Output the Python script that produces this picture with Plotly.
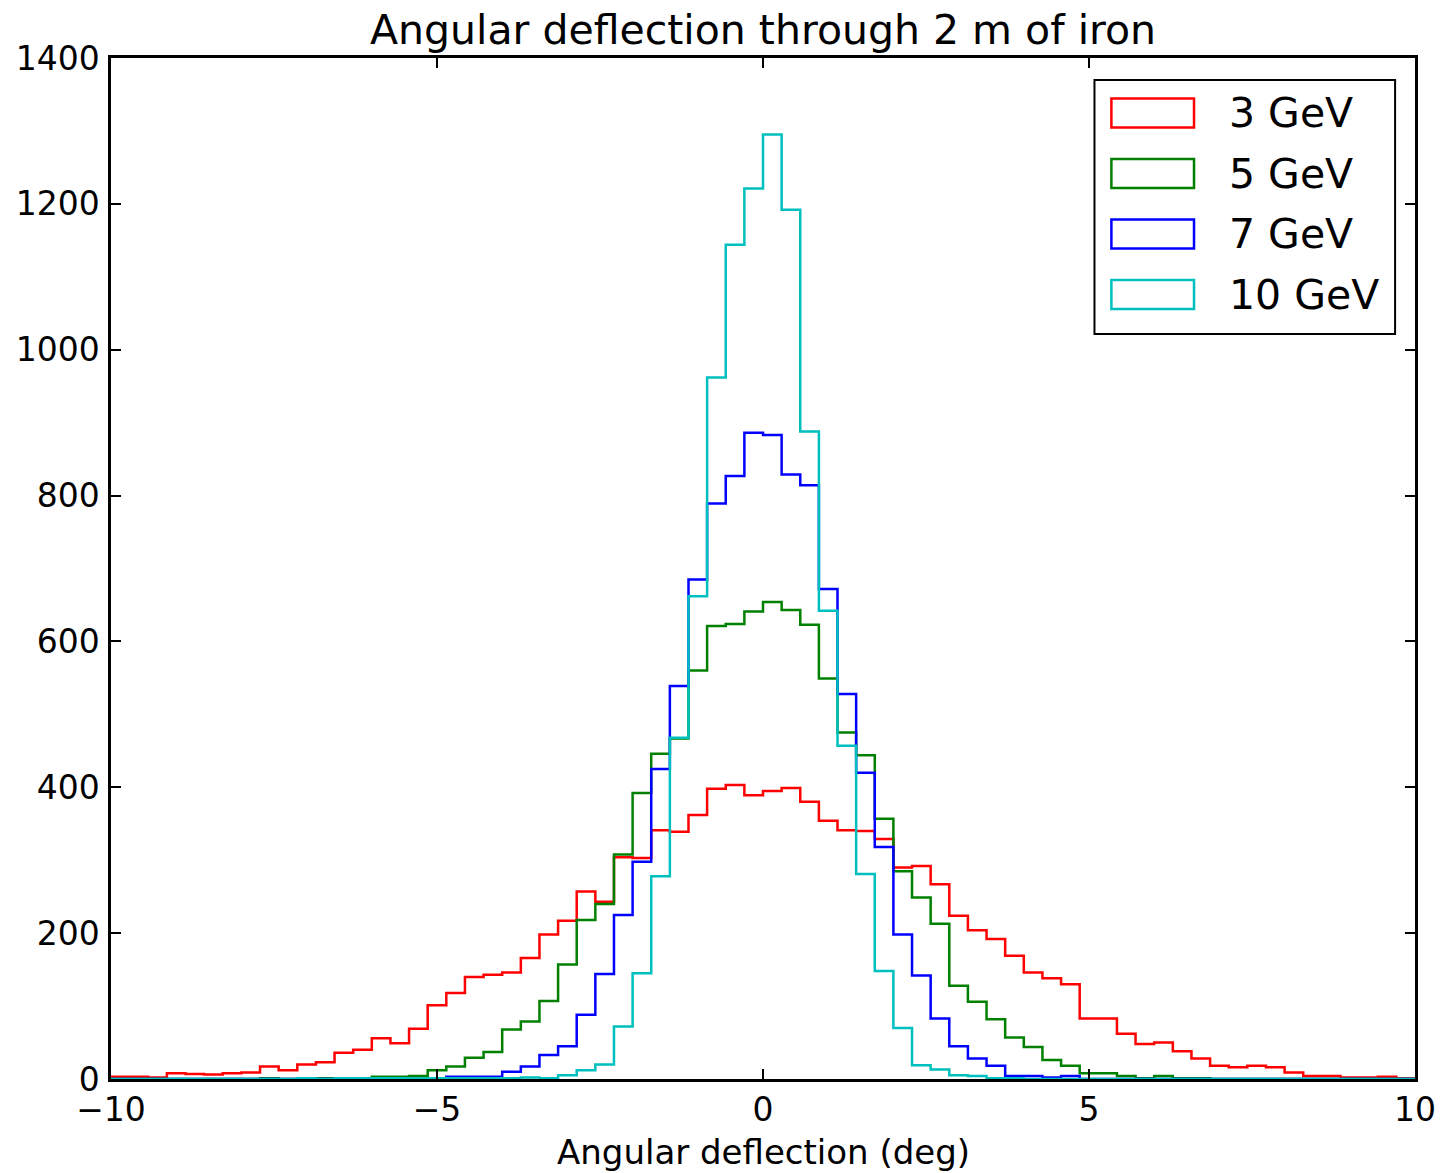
import numpy as np
import plotly.graph_objects as go

# Histogram binning: 70 equal bins over [-10, 10] degrees
X_MIN, X_MAX, N_BINS = -10.0, 10.0, 70

# Counts per bin for each beam energy
counts_3gev = [3, 3, 2, 8, 7, 6, 8, 9, 17, 12,
               20, 23, 36, 40, 56, 49, 69, 101, 118, 140,
               143, 146, 166, 198, 217, 257, 243, 304, 303, 341,
               339, 362, 398, 403, 389, 395, 399, 380, 354, 341,
               340, 329, 290, 292, 267, 224, 204, 192, 169, 146,
               138, 130, 83, 83, 62, 48, 50, 38, 28, 18,
               16, 18, 16, 9, 4, 4, 2, 2, 3, 1]
counts_5gev = [0, 0, 0, 0, 0, 0, 0, 0, 1, 0,
               0, 1, 0, 1, 3, 3, 4, 12, 17, 29,
               37, 68, 79, 107, 157, 218, 240, 308, 392, 446,
               467, 560, 621, 624, 641, 654, 643, 623, 549, 475,
               444, 357, 285, 249, 213, 128, 106, 82, 57, 44,
               26, 18, 8, 8, 4, 1, 4, 1, 1, 0,
               0, 0, 0, 0, 0, 0, 0, 0, 0, 0]
counts_7gev = [0, 0, 0, 0, 0, 0, 0, 0, 0, 0,
               0, 0, 0, 0, 0, 0, 0, 0, 3, 3,
               3, 10, 17, 33, 45, 88, 144, 225, 298, 425,
               539, 685, 789, 827, 886, 883, 829, 814, 672, 528,
               420, 318, 198, 142, 83, 45, 28, 18, 4, 4,
               2, 4, 0, 0, 0, 0, 0, 0, 0, 0,
               0, 0, 0, 0, 0, 0, 0, 0, 0, 0]
counts_10gev = [0, 0, 0, 0, 0, 0, 0, 0, 0, 0,
                1, 0, 1, 1, 1, 1, 1, 1, 1, 1,
                1, 1, 2, 1, 5, 12, 20, 72, 145, 278,
                468, 662, 962, 1144, 1221, 1295, 1192, 888, 642, 457,
                281, 148, 70, 19, 13, 5, 4, 1, 1, 0,
                0, 0, 0, 0, 0, 0, 0, 0, 0, 0,
                0, 0, 0, 0, 0, 0, 0, 0, 0, 0]

series_names = ["3 GeV", "5 GeV", "7 GeV", "10 GeV"]
series_colors = ["#ff0000", "#008000", "#0000ff", "#00bfbf"]
series_counts = [counts_3gev, counts_5gev, counts_7gev, counts_10gev]

x_tick_vals = [-10, -5, 0, 5, 10]
x_tick_text = ["\u221210", "\u22125", "0", "5", "10"]
y_tick_vals = [0, 200, 400, 600, 800, 1000, 1200, 1400]

FONT = "DejaVu Sans"
W, H = 1448, 1173
L, R, T, B = 111, 27, 58, 94
PW, PH = W - L - R, H - T - B

edges = np.linspace(X_MIN, X_MAX, N_BINS + 1)


def step_outline(counts):
    """Outline of a step histogram: up from the baseline, across every bin, back down."""
    xs = [edges[0]] + list(edges)
    ys = [0] + list(counts) + [0]
    return xs, ys


fig = go.Figure()
for name, color, counts in zip(series_names, series_colors, series_counts):
    xs, ys = step_outline(counts)
    fig.add_trace(go.Scatter(
        x=xs, y=ys, mode="lines", name=name,
        line=dict(color=color, width=2.5, shape="hv"),
        showlegend=False, hoverinfo="skip",
    ))

axis_common = dict(
    showline=True, linecolor="black", linewidth=2.5, mirror="allticks",
    ticks="inside", ticklen=10, tickwidth=1.5, tickcolor="black",
    showgrid=False, zeroline=False,
    tickfont=dict(family=FONT, size=33, color="black"),
)

fig.update_xaxes(range=[X_MIN, X_MAX], tickvals=x_tick_vals, ticktext=x_tick_text,
                 ticklabelstandoff=0, **axis_common)
fig.update_yaxes(range=[0, 1400], tickvals=y_tick_vals,
                 ticklabelstandoff=2, **axis_common)


def px_x(p):
    return (p - L) / PW


def px_y(p):
    return (H - B - p) / PH


annotations = [
    dict(text="Angular deflection through 2 m of iron", x=0.5, y=1.0,
         xref="paper", yref="paper", xanchor="center", yanchor="middle",
         yshift=28, showarrow=False, font=dict(family=FONT, size=41, color="black")),
    dict(text="Angular deflection (deg)", x=0.5, y=0.0,
         xref="paper", yref="paper", xanchor="center", yanchor="middle",
         yshift=-73, showarrow=False, font=dict(family=FONT, size=34, color="black")),
]

# Legend drawn as a framed box with open rectangle swatches
shapes = [dict(type="rect", xref="paper", yref="paper",
               x0=px_x(1099), x1=px_x(1401), y0=px_y(334), y1=px_y(80),
               line=dict(color="black", width=2), fillcolor="white", layer="above")]
row_centers = [113, 173.5, 234, 294.5]
for name, color, cy in zip(series_names, series_colors, row_centers):
    shapes.append(dict(type="rect", xref="paper", yref="paper",
                       x0=px_x(1116), x1=px_x(1199), y0=px_y(cy + 14.5), y1=px_y(cy - 14.5),
                       line=dict(color=color, width=2.5), fillcolor="rgba(0,0,0,0)",
                       layer="above"))
    annotations.append(dict(text=name, x=px_x(1232), y=px_y(cy), xref="paper", yref="paper",
                            xanchor="left", yanchor="middle", showarrow=False,
                            font=dict(family=FONT, size=41, color="black")))

fig.update_layout(
    width=W, height=H,
    margin=dict(l=L, r=R, t=T, b=B, pad=0),
    paper_bgcolor="white", plot_bgcolor="white",
    shapes=shapes, annotations=annotations,
    showlegend=False,
)

fig.write_html("out.html")
